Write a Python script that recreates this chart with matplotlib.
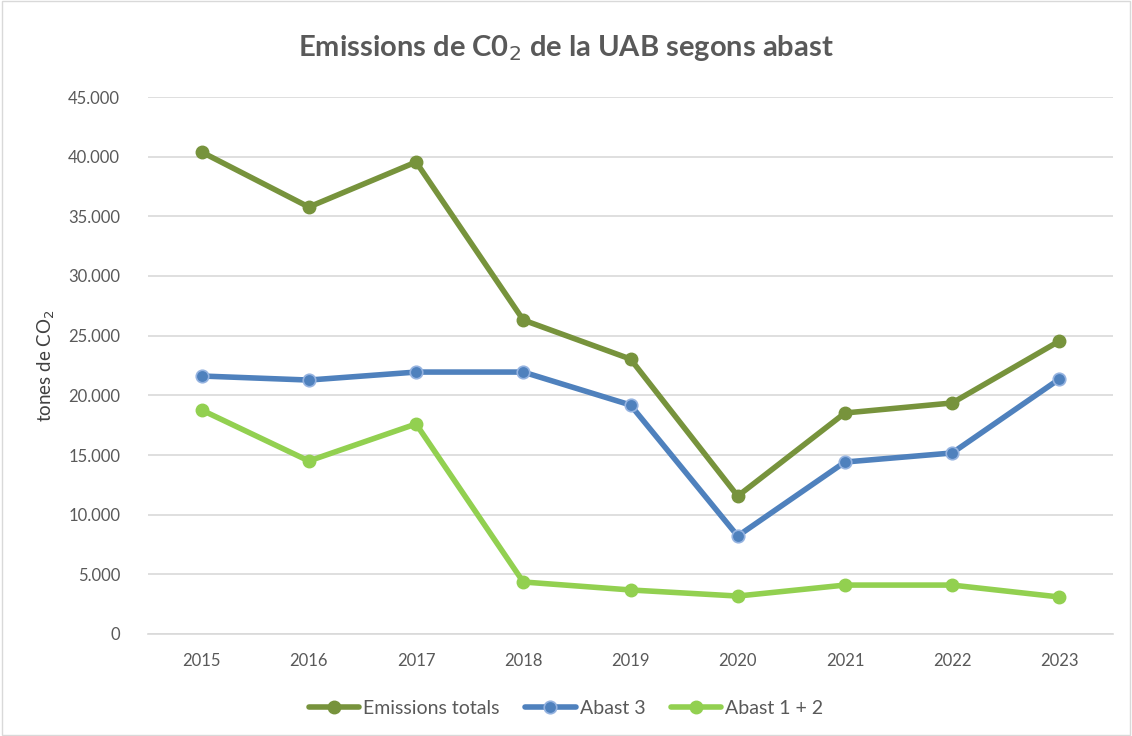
import matplotlib.pyplot as plt
from matplotlib.ticker import FuncFormatter

plt.rcParams['font.family'] = ['Lato', 'DejaVu Sans']

anys = ["2015", "2016", "2017", "2018", "2019", "2020", "2021", "2022", "2023"]
emissions_totals = [40390, 35780, 39550, 26310, 23040, 11560, 18520, 19360, 24550]
abast_3 = [21620, 21280, 21950, 21950, 19190, 8210, 14410, 15170, 21370]
abast_1_2 = [18770, 14500, 17600, 4360, 3690, 3180, 4100, 4100, 3100]

gris = "#595959"

fig = plt.figure(figsize=(11.32, 7.36), dpi=100)
ax = fig.add_axes([148 / 1132, 1 - 634 / 736, (1113 - 148) / 1132, (634 - 97) / 736])

x = range(len(anys))
ax.plot(x, emissions_totals, color="#77933c", lw=4, marker="o", ms=9,
        label="Emissions totals", solid_capstyle="round")
ax.plot(x, abast_3, color="#4f81bd", lw=4, marker="o", ms=9, mec="#95b3e0", mew=1.2,
        label="Abast 3", solid_capstyle="round")
ax.plot(x, abast_1_2, color="#92d050", lw=4, marker="o", ms=9,
        label="Abast 1 + 2", solid_capstyle="round")

ax.set_xlim(-0.5, len(anys) - 0.5)
ax.set_ylim(0, 45000)
ax.set_yticks(range(0, 45001, 5000))
ax.yaxis.set_major_formatter(FuncFormatter(lambda v, p: f"{int(v):,}".replace(",", ".")))
ax.set_xticks(list(x))
ax.set_xticklabels(anys)
ax.grid(axis="y", color="#d9d9d9", lw=1.2)
ax.set_axisbelow(True)
for s in ["top", "right", "left"]:
    ax.spines[s].set_visible(False)
ax.spines["bottom"].set_color("#d9d9d9")
ax.spines["bottom"].set_linewidth(1.2)
ax.tick_params(length=0, labelsize=12, colors=gris, pad=14)
ax.tick_params(axis="y", pad=20)

ax.set_ylabel("tones de CO$_2$", fontsize=13.5, color="#404040", labelpad=8)
fig.text(0.5, 1 - 48 / 736, "Emissions de C0$_2$ de la UAB segons abast", ha="center", va="center",
         fontsize=21, fontweight="bold", color=gris)

fig.legend(loc="center", bbox_to_anchor=(0.5, 1 - 708 / 736), ncol=3, frameon=False,
           fontsize=14, labelcolor=gris, handlelength=2.6, columnspacing=1.3, handletextpad=0.2)

fig.patches.append(plt.Rectangle((0.002, 0.002), 0.996, 0.996, transform=fig.transFigure,
                                 fill=False, edgecolor="#d9d9d9", lw=1))

fig.savefig("out.png", dpi=100)
